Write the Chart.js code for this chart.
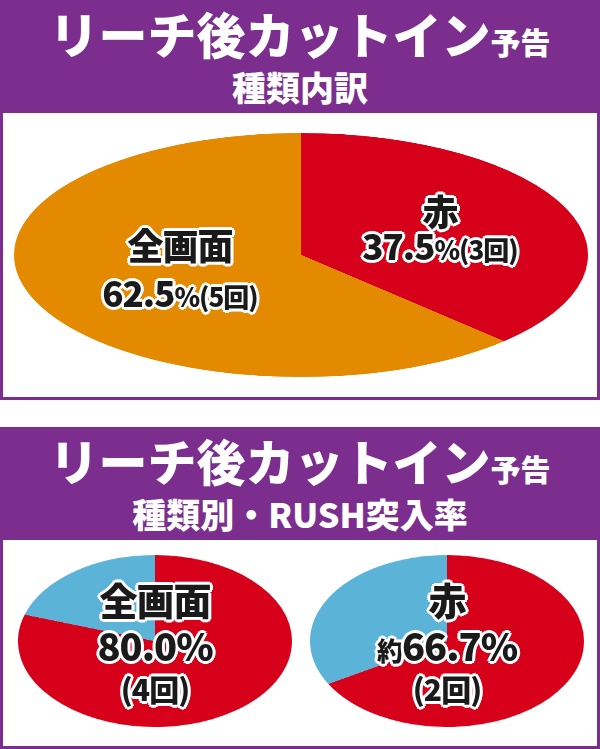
<!DOCTYPE html>
<html><head><meta charset="utf-8">
<script src="https://cdn.jsdelivr.net/npm/chart.js@4/dist/chart.umd.min.js"></script>
<style>
body{margin:0;width:600px;height:749px;background:#fff;position:relative;overflow:hidden;font-family:"Noto Sans CJK JP",sans-serif;}
.panel{position:absolute;left:0;width:594px;border:3px solid #7B2E8E;background:#fff;}
.head{position:absolute;left:0;top:0;width:100%;background:#7B2E8E;color:#fff;text-align:center;font-weight:900;}
.t1{font-size:49px;line-height:52px;letter-spacing:0px;}
.t1 small{font-size:30px;}
.t2{font-size:34px;line-height:40px;}
.pie{position:absolute;transform-origin:0 0;}
.lab{position:absolute;transform:translate(-50%,-50%);white-space:nowrap;font-weight:900;color:#1a1a1a;letter-spacing:-1px;
text-shadow:2px 0 #fff,-2px 0 #fff,0 2px #fff,0 -2px #fff,2px 2px #fff,-2px -2px #fff,2px -2px #fff,-2px 2px #fff,3px 0 #fff,-3px 0 #fff,0 3px #fff,0 -3px #fff,1px 0 #1a1a1a,-1px 0 #1a1a1a;}
</style></head><body>
<div class="panel" style="top:0;height:394px;"><div class="head" style="height:110px;"><div class="t1" style="padding-top:4px">リーチ後カットイン<small>予告</small></div><div class="t2">種類内訳</div></div></div>
<div class="panel" style="top:427px;height:316px;"><div class="head" style="height:110px;"><div class="t1" style="padding-top:4px">リーチ後カットイン<small>予告</small></div><div class="t2">種類別・RUSH突入率</div></div></div>
<div id="p1" class="pie"><canvas id="c1"></canvas></div>
<div id="p2" class="pie"><canvas id="c2"></canvas></div>
<div id="p3" class="pie"><canvas id="c3"></canvas></div>
<div class="lab" style="left:180px;top:244px;font-size:36px">全画面</div>
<div class="lab" style="left:180px;top:291px;font-size:35px">62.5<span style="font-size:26px">%(5回)</span></div>
<div class="lab" style="left:440px;top:210px;font-size:36px">赤</div>
<div class="lab" style="left:440px;top:244px;font-size:35px">37.5<span style="font-size:26px">%(3回)</span></div>
<div class="lab" style="left:155px;top:598px;font-size:38px">全画面</div>
<div class="lab" style="left:155px;top:644px;font-size:38px">80.0%</div>
<div class="lab" style="left:155px;top:688px;font-size:30px">(4回)</div>
<div class="lab" style="left:447px;top:598px;font-size:38px">赤</div>
<div class="lab" style="left:447px;top:644px;font-size:38px"><span style="font-size:26px">約</span>66.7%</div>
<div class="lab" style="left:447px;top:688px;font-size:30px">(2回)</div>
<script>
const typeLabels=["赤","全画面"];
const typeShares=[37.5,62.5];
const zengamenRush=[80.0,20.0];
const akaRush=[66.7,33.3];
const RED="#D7001A",ORANGE="#E38A00",BLUE="#5BB4D8";
function mk(div,cv,data,colors,cx,cy,rx,ry){
  const d=document.getElementById(div),c=document.getElementById(cv);
  const s=rx*2;
  c.width=s;c.height=s;c.style.width=s+"px";c.style.height=s+"px";
  d.style.left=(cx-rx)+"px";d.style.top=(cy-ry)+"px";
  d.style.transform="scaleY("+(ry/rx)+")";
  new Chart(c,{type:"pie",data:{labels:data.map((_,i)=>i),datasets:[{data:data,backgroundColor:colors,borderWidth:0}]},
  options:{responsive:false,animation:false,layout:{padding:0},plugins:{legend:{display:false},tooltip:{enabled:false}}}});
}
mk("p1","c1",typeShares,[RED,ORANGE],301,255,287,122);
mk("p2","c2",zengamenRush,[RED,BLUE],155,641,137,86);
mk("p3","c3",akaRush,[RED,BLUE],447,641,137,86);
</script></body></html>
